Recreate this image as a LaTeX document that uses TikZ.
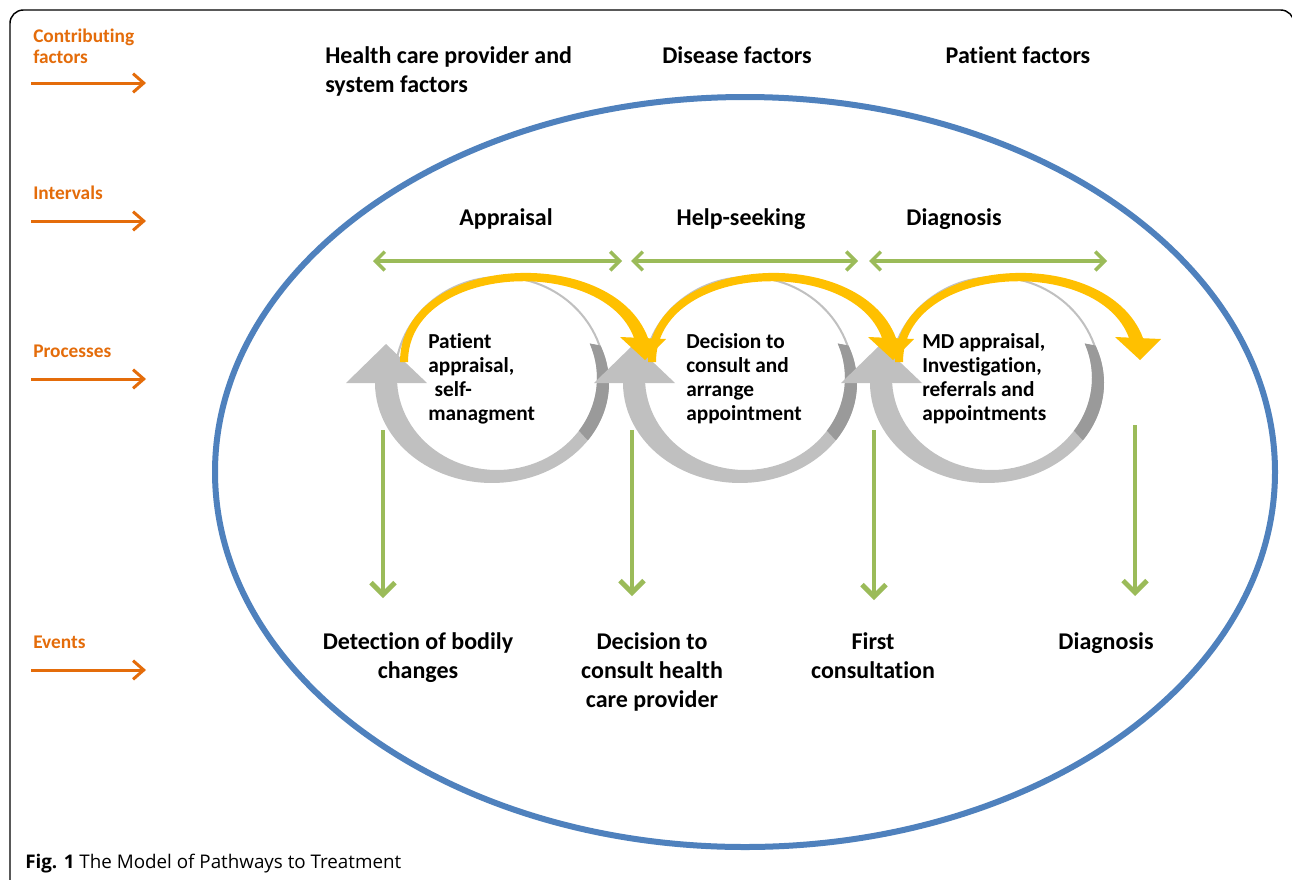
\documentclass[tikz,border=0pt]{standalone}
\usepackage{fontspec}
\setmainfont{Carlito}[Ligatures=NoCommon]
\newfontfamily\capfont{Open Sans}
\usetikzlibrary{arrows.meta}
\definecolor{orangeA}{HTML}{E46C0A}
\definecolor{greenA}{HTML}{9BBB59}
\definecolor{blueA}{HTML}{4F81BD}
\definecolor{goldA}{HTML}{FFC000}
\definecolor{grayL}{HTML}{C0C0C0}
\definecolor{grayD}{HTML}{9A9A9A}
\begin{document}
\begin{tikzpicture}[x=0.75pt,y=-0.75pt,
 lbl/.style={font=\bfseries\fontsize{14.5}{15.75}\selectfont, text=orangeA, inner sep=0, anchor=base west, align=left},
 orarrow/.style={draw=orangeA, line width=2.25pt, -{Straight Barb[length=8pt,width=14pt]}},
 head/.style={font=\bfseries\fontsize{18}{21.75}\selectfont, inner sep=0, anchor=base, align=center},
 proc/.style={font=\bfseries\fontsize{16}{18}\selectfont, inner sep=0, anchor=base west, align=left},
 hgreen/.style={draw=greenA, line width=2.6pt, {Straight Barb[length=7pt,width=14pt]}-{Straight Barb[length=7pt,width=14pt]}},
 vgreen/.style={draw=greenA, line width=3.6pt, -{Straight Barb[length=9pt,width=18pt]}},
 thin/.style={draw=grayL, line width=1.5pt},
]
\useasboundingbox (0,0) rectangle (1292,879);
\clip (0,0) rectangle (1292,879);
\fill[white] (0,0) rectangle (1292,879);
\draw[line width=1.1pt, rounded corners=10pt] (10,900) -- (10,10) -- (1294,10) -- (1294,900);

% outer ellipse
\draw[blueA, line width=4.5pt] (745,472) ellipse [x radius=530, y radius=375];

% process loops: grey parts
\foreach \i/\cx in {0/495,1/743,2/990} {
  \draw[thin] (\cx+5,378) ellipse [x radius=105, y radius=101];
  \fill[grayL] plot[domain=-22:180,samples=60] ({\cx-3+117*cos(\x)},{383+100*sin(\x)})
     -- plot[domain=180:-22,samples=60] ({\cx+2+100*cos(\x)},{378+92*sin(\x)}) -- cycle;
  \fill[grayD] plot[domain=-22:35,samples=30] ({\cx-3+117*cos(\x)},{383+100*sin(\x)})
     -- plot[domain=35:-22,samples=30] ({\cx+2+100*cos(\x)},{378+92*sin(\x)}) -- cycle;
  \fill[grayL] (\cx-109,344) -- (\cx-149,383) -- (\cx-68,383) -- cycle;
}
% yellow arcs
\foreach \i/\cx in {0/495,1/743,2/990} {
  \pgfmathsetmacro{\s}{\cx-91}
  \pgfmathsetmacro{\h}{\cx+148}
  \fill[goldA] (\s-4,362) .. controls (\s-4,254) and (\s+208,242) .. (\h+5,338)
     -- (\h-9,338) .. controls (\s+200,255) and (\s+4,263) .. (\s+4,362) -- cycle;
  \fill[goldA] (\h-23,337) -- (\h+23,339) -- (\h+2,360) -- cycle;
}

% left labels and orange arrows
\node[lbl] (cf) at (33,63) {Contributing\\factors};
\node[lbl] (iv) at (33,199) {Intervals};
\node[lbl] (pr) at (33,357) {Processes};
\node[lbl] (ev) at (33,648) {Events};
\coordinate (o1s) at (31,83);  \coordinate (o1e) at (146,83);
\coordinate (o2s) at (31,221); \coordinate (o2e) at (146,221);
\coordinate (o3s) at (31,379); \coordinate (o3e) at (146,379);
\coordinate (o4s) at (31,670); \coordinate (o4e) at (146,670);
\draw[orarrow] (o1s) -- (o1e);
\draw[orarrow] (o2s) -- (o2e);
\draw[orarrow] (o3s) -- (o3e);
\draw[orarrow] (o4s) -- (o4e);

% headings
\node[head, anchor=base west, align=left] (hc) at (325,92) {Health care provider and\\system factors};
\node[head] (df) at (737,63) {Disease factors};
\node[head] (pf) at (1018,63) {Patient factors};
\node[head] (ap) at (506,225) {Appraisal};
\node[head] (hs) at (741,225) {Help-seeking};
\node[head] (dg) at (954,225) {Diagnosis};

% interval arrows
\coordinate (h1a) at (373,261); \coordinate (h1b) at (622,261);
\coordinate (h2a) at (631,261); \coordinate (h2b) at (858,261);
\coordinate (h3a) at (869,261); \coordinate (h3b) at (1107,261);
\draw[hgreen] (h1a) -- (h1b);
\draw[hgreen] (h2a) -- (h2b);
\draw[hgreen] (h3a) -- (h3b);

% processes text
\node[proc] (p1) at (428,420) {Patient\\appraisal,\\\hspace{0.3em}self-\\managment};
\node[proc] (p2) at (686,420) {Decision to\\consult and\\arrange\\appointment};
\node[proc] (p3) at (922,420) {MD appraisal,\\Investigation,\\referrals and\\appointments};

% event arrows
\coordinate (v1a) at (383,430);  \coordinate (v1b) at (383,598);
\coordinate (v2a) at (632,430);  \coordinate (v2b) at (632,596);
\coordinate (v3a) at (874,430);  \coordinate (v3b) at (874,600);
\coordinate (v4a) at (1135,425); \coordinate (v4b) at (1135,596);
\draw[vgreen] (v1a) -- (v1b);
\draw[vgreen] (v2a) -- (v2b);
\draw[vgreen] (v3a) -- (v3b);
\draw[vgreen] (v4a) -- (v4b);

% events
\node[head] (e1) at (418,678) {Detection of bodily\\changes};
\node[head] (e2) at (652,707) {Decision to\\consult health\\care provider};
\node[head] (e3) at (873,678) {First\\consultation};
\node[head] (e4) at (1106,649) {Diagnosis};

% caption
\node[anchor=base west, inner sep=0, font=\capfont\fontsize{14.1}{17}\selectfont] (cap) at (25,868) {\textbf{Fig. 1} The Model of Pathways to Treatment};
\end{tikzpicture}
\end{document}
